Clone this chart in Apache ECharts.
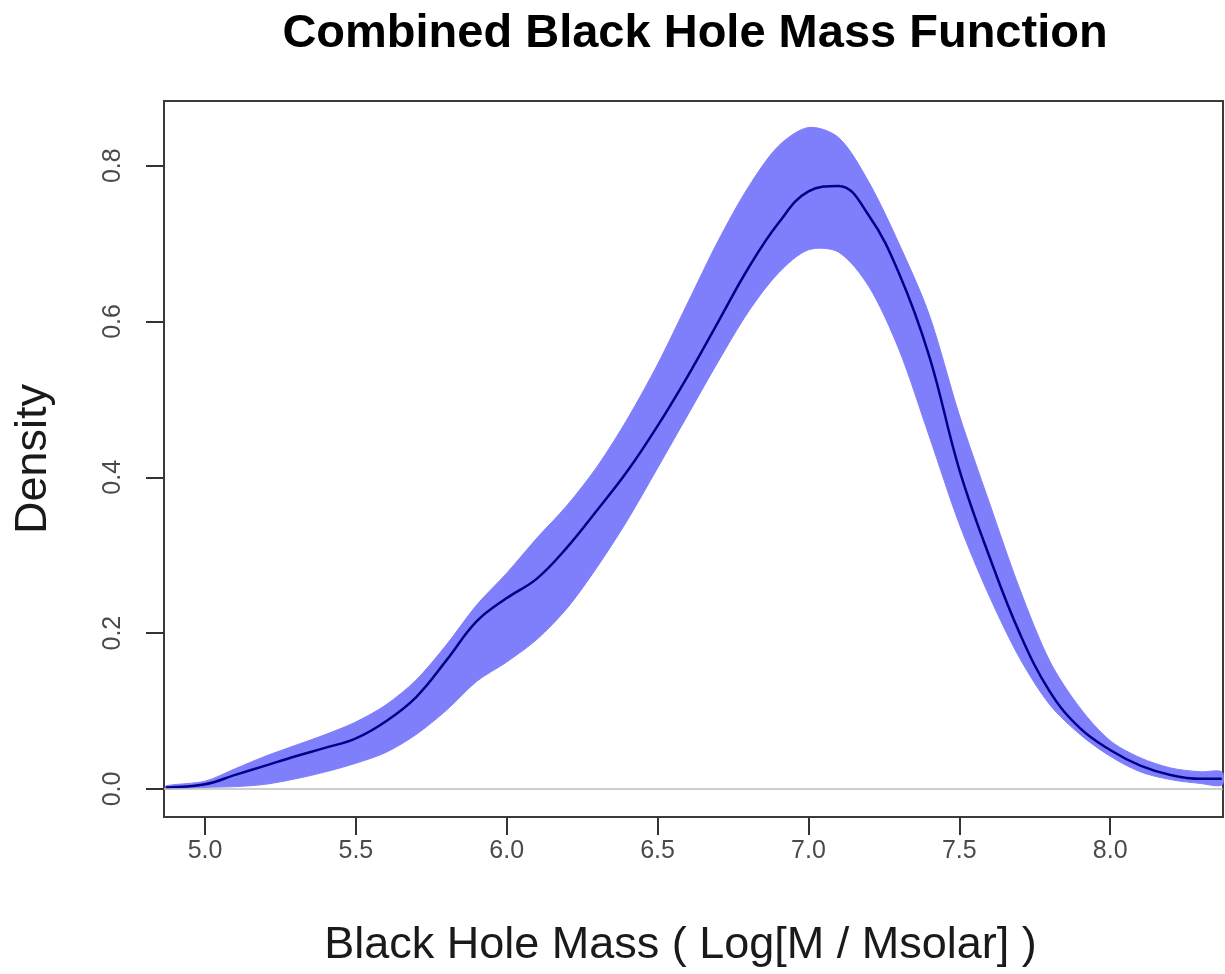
<!DOCTYPE html>
<html>
<head>
<meta charset="utf-8">
<title>Combined Black Hole Mass Function</title>
<script src="https://cdn.jsdelivr.net/npm/echarts@6/dist/echarts.min.js"></script>
<style>
  html, body { margin: 0; padding: 0; background: #ffffff; }
  #chart { width: 1225px; height: 974px; }
</style>
</head>
<body>
<div id="chart"></div>
<script>
// Log10 black hole mass grid (Log[M / Msolar])
const logMass = [4.87, 5.0, 5.1, 5.2, 5.3, 5.4, 5.5, 5.6, 5.7, 5.8, 5.9, 6.0, 6.1, 6.2, 6.3, 6.4, 6.5, 6.6, 6.7, 6.8, 6.9, 7.0, 7.1, 7.2, 7.3, 7.4, 7.5, 7.6, 7.7, 7.8, 7.9, 8.0, 8.1, 8.2, 8.3, 8.37];

// Central density estimate
const densityMid = [0.002, 0.006, 0.018, 0.030, 0.042, 0.053, 0.065, 0.087, 0.118, 0.165, 0.215, 0.245, 0.270, 0.310, 0.358, 0.408, 0.466, 0.530, 0.599, 0.668, 0.726, 0.767, 0.774, 0.736, 0.662, 0.556, 0.410, 0.298, 0.200, 0.125, 0.078, 0.050, 0.030, 0.018, 0.013, 0.013];

// Upper and lower edges of the uncertainty band
const densityHigh = [0.004, 0.010, 0.026, 0.042, 0.056, 0.070, 0.086, 0.108, 0.140, 0.185, 0.236, 0.277, 0.322, 0.364, 0.414, 0.475, 0.545, 0.624, 0.703, 0.772, 0.825, 0.849, 0.836, 0.779, 0.700, 0.609, 0.480, 0.367, 0.257, 0.164, 0.104, 0.062, 0.040, 0.027, 0.022, 0.022];
const densityLow = [0.000, 0.002, 0.003, 0.006, 0.013, 0.022, 0.033, 0.047, 0.070, 0.101, 0.138, 0.163, 0.192, 0.232, 0.285, 0.345, 0.412, 0.480, 0.548, 0.612, 0.662, 0.692, 0.689, 0.645, 0.564, 0.453, 0.340, 0.247, 0.168, 0.108, 0.070, 0.042, 0.022, 0.012, 0.007, 0.005];

// Axis ranges and tick labels
const xRange = [4.864, 8.374];
const yRange = [-0.036, 0.883];
const xTickLabels = ['5.0', '5.5', '6.0', '6.5', '7.0', '7.5', '8.0'];
const yTickLabels = ['0.0', '0.2', '0.4', '0.6', '0.8'];

const FONT = '"Liberation Sans", Arial, Helvetica, sans-serif';

const bandRows = logMass.map((x, i) => [x, densityLow[i], densityHigh[i]]);
const midPairs = logMass.map((x, i) => [x, densityMid[i]]);

const xTickSet = xTickLabels.map(Number);
const yTickSet = yTickLabels.map(Number);
const near = (v, set) => set.some(t => Math.abs(t - v) < 1e-6);

// Uncertainty band: one closed polygon, upper edge left→right then lower edge right→left
function renderBand(params, api) {
  if (params.dataIndex !== 0) return null;
  const n = bandRows.length;
  const upper = [];
  const lower = [];
  for (let i = 0; i < n; i++) {
    upper.push(api.coord([api.value(0, i), api.value(2, i)]));
    lower.push(api.coord([api.value(0, i), api.value(1, i)]));
  }
  const points = upper.concat(lower.reverse());
  return {
    type: 'polygon',
    shape: { points: points, smooth: 0.3 },
    style: { fill: '#7f7ffb', stroke: '#7f7ffb', lineWidth: 1 },
    silent: true
  };
}

const chart = echarts.init(document.getElementById('chart'), null, { renderer: 'canvas' });

chart.setOption({
  animation: false,
  backgroundColor: '#ffffff',
  title: {
    text: 'Combined Black Hole Mass Function',
    left: 690,
    textAlign: 'center',
    top: 6,
    textStyle: { fontFamily: FONT, fontWeight: 'bold', fontSize: 47, color: '#000000' }
  },
  grid: {
    left: 164, right: 2, top: 101, bottom: 157,
    show: true, borderColor: '#3a3a3a', borderWidth: 2, backgroundColor: 'transparent'
  },
  xAxis: {
    type: 'value',
    min: xRange[0], max: xRange[1],
    splitNumber: 7,
    name: 'Black Hole Mass ( Log[M / Msolar] )',
    nameLocation: 'middle',
    nameGap: 106,
    nameTextStyle: { fontFamily: FONT, fontSize: 45, color: '#1a1a1a', padding: [0, 26, 0, 0] },
    axisLine: { show: false, onZero: false },
    axisTick: {
      show: true, length: 18, inside: false,
      lineStyle: { color: '#333333', width: 2 },
      customValues: xTickSet
    },
    axisLabel: {
      fontFamily: FONT, fontSize: 25, color: '#4a4a4a', margin: 22,
      customValues: xTickSet,
      formatter: v => near(v, xTickSet) ? v.toFixed(1) : ''
    },
    splitLine: { show: false }
  },
  yAxis: {
    type: 'value',
    min: yRange[0], max: yRange[1],
    name: 'Density',
    nameLocation: 'middle',
    nameGap: 108,
    nameRotate: 90,
    nameTextStyle: { fontFamily: FONT, fontSize: 45, color: '#1a1a1a' },
    axisLine: { show: false, onZero: false },
    axisTick: {
      show: true, length: 18, inside: false,
      lineStyle: { color: '#333333', width: 2 },
      customValues: yTickSet
    },
    axisLabel: {
      fontFamily: FONT, fontSize: 25, color: '#4a4a4a', margin: 38, rotate: 90,
      customValues: yTickSet,
      formatter: v => near(v, yTickSet) ? v.toFixed(1) : ''
    },
    splitLine: { show: false }
  },
  series: [
    {
      name: 'zero',
      type: 'line',
      data: [],
      silent: true,
      markLine: {
        silent: true,
        symbol: 'none',
        label: { show: false },
        lineStyle: { color: '#bebebe', width: 1.5, type: 'solid' },
        data: [{ yAxis: 0 }]
      },
      z: 1
    },
    {
      name: 'band',
      type: 'custom',
      data: bandRows,
      renderItem: renderBand,
      encode: { x: 0, y: [1, 2] },
      silent: true,
      z: 3
    },
    {
      name: 'density',
      type: 'line',
      data: midPairs,
      smooth: 0.4,
      smoothMonotone: 'none',
      symbol: 'none',
      lineStyle: { color: '#00008b', width: 2.5 },
      silent: true,
      z: 4
    }
  ]
});
</script>
</body>
</html>
